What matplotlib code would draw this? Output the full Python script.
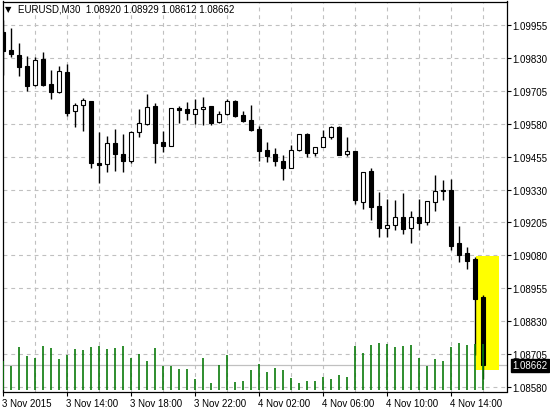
import matplotlib
matplotlib.use("Agg")
import matplotlib.pyplot as plt
import matplotlib.transforms as mtransforms
from matplotlib.patches import Rectangle

# EURUSD M30, 3 Nov 2015 10:00 .. 4 Nov 2015 16:00 (61 bars)
opens = [1.09927, 1.09861, 1.09841, 1.09799, 1.09726, 1.09826, 1.09731, 1.09702, 1.09777, 1.09627,
         1.09650, 1.09666, 1.09431, 1.09426, 1.09507, 1.09465, 1.09440, 1.09548, 1.09578, 1.09647,
         1.09512, 1.09497, 1.09639, 1.09636, 1.09618, 1.09635, 1.09647, 1.09585, 1.09616, 1.09665,
         1.09613, 1.09594, 1.09560, 1.09480, 1.09464, 1.09439, 1.09413, 1.09479, 1.09541, 1.09468,
         1.09491, 1.09529, 1.09568, 1.09464, 1.09476, 1.09284, 1.09401, 1.09266, 1.09185, 1.09197,
         1.09225, 1.09185, 1.09225, 1.09208, 1.09284, 1.09327, 1.09327, 1.09127, 1.09089, 1.09066,
         1.08920]
highs = [1.09974, 1.09942, 1.09886, 1.09836, 1.09835, 1.09854, 1.09785, 1.09800, 1.09807, 1.09660,
         1.09678, 1.09667, 1.09550, 1.09532, 1.09560, 1.09541, 1.09551, 1.09635, 1.09693, 1.09659,
         1.09552, 1.09640, 1.09646, 1.09661, 1.09674, 1.09680, 1.09648, 1.09628, 1.09674, 1.09670,
         1.09628, 1.09651, 1.09570, 1.09512, 1.09488, 1.09461, 1.09499, 1.09541, 1.09543, 1.09492,
         1.09556, 1.09570, 1.09573, 1.09529, 1.09477, 1.09396, 1.09412, 1.09322, 1.09294, 1.09290,
         1.09317, 1.09249, 1.09294, 1.09285, 1.09385, 1.09366, 1.09370, 1.09192, 1.09112, 1.09074,
         1.08929]
lows = [1.09766, 1.09832, 1.09762, 1.09705, 1.09723, 1.09724, 1.09675, 1.09698, 1.09611, 1.09567,
        1.09554, 1.09411, 1.09354, 1.09396, 1.09402, 1.09396, 1.09432, 1.09531, 1.09574, 1.09432,
        1.09474, 1.09494, 1.09583, 1.09595, 1.09579, 1.09575, 1.09575, 1.09584, 1.09613, 1.09604,
        1.09585, 1.09554, 1.09440, 1.09436, 1.09421, 1.09368, 1.09411, 1.09478, 1.09455, 1.09456,
        1.09490, 1.09522, 1.09461, 1.09459, 1.09275, 1.09256, 1.09214, 1.09150, 1.09150, 1.09176,
        1.09161, 1.09127, 1.09176, 1.09195, 1.09249, 1.09290, 1.09102, 1.09056, 1.09029, 1.08700,
        1.08612]
closes = [1.09857, 1.09845, 1.09797, 1.09724, 1.09822, 1.09728, 1.09702, 1.09779, 1.09622, 1.09651,
          1.09669, 1.09432, 1.09424, 1.09506, 1.09464, 1.09440, 1.09548, 1.09583, 1.09642, 1.09508,
          1.09497, 1.09640, 1.09633, 1.09621, 1.09636, 1.09644, 1.09584, 1.09617, 1.09665, 1.09611,
          1.09590, 1.09557, 1.09478, 1.09459, 1.09440, 1.09413, 1.09480, 1.09540, 1.09468, 1.09491,
          1.09529, 1.09567, 1.09462, 1.09476, 1.09292, 1.09396, 1.09264, 1.09185, 1.09195, 1.09225,
          1.09181, 1.09225, 1.09204, 1.09285, 1.09323, 1.09326, 1.09117, 1.09083, 1.09060, 1.08914,
          1.08662]
volumes = [2296, 1872, 3416, 2696, 2536, 3496, 3336, 2456, 2776, 3256,
           3176, 3416, 3496, 3256, 3336, 3496, 2536, 2856, 2296, 3336,
           1872, 1872, 1656, 1656, 856, 2536, 536, 1976, 2776, 616,
           696, 1576, 2056, 1416, 1736, 1576, 936, 536, 696, 696,
           1016, 856, 1176, 1016, 3496, 2936, 3576, 3736, 3656, 3416,
           3496, 3576, 2536, 1896, 2456, 2296, 3416, 3736, 3576, 3656,
           3656]

time_labels = ["3 Nov 2015", "3 Nov 14:00", "3 Nov 18:00", "3 Nov 22:00",
               "4 Nov 02:00", "4 Nov 06:00", "4 Nov 10:00", "4 Nov 14:00"]
price_labels = ["1.09955", "1.09830", "1.09705", "1.09580", "1.09455", "1.09330",
                "1.09205", "1.09080", "1.08955", "1.08830", "1.08705", "1.08580"]
bid = 1.08662
symbol = "EURUSD,M30"

W, H = 550, 410
fig = plt.figure(figsize=(W / 100, H / 100), dpi=100)
ax = fig.add_axes([2.5 / W, 1 - 392.5 / H, 504 / W, 390 / H])
ax.set_xlim(-0.1, 62.9)
ax.set_ylim(1.085629, 1.100443)

font = "Liberation Sans"
grid_kw = dict(color="#c0c0c0", lw=0.8, ls=(0, (3.5, 3.5)), zorder=0)

# grid
price_vals = [float(p) for p in price_labels]
for p in price_vals:
    ax.axhline(p, **grid_kw)
for i in range(4, 63, 4):
    ax.axvline(i, **grid_kw)

# bid line
ax.axhline(bid, color="#c0c0c0", lw=0.9, zorder=1)

# highlight rectangle
ax.add_patch(Rectangle((59.05, 1.08646), 2.9, 1.09078 - 1.08646,
                       facecolor="#ffff00", edgecolor="none", zorder=2))

# candles
xs = list(range(len(opens)))
ax.vlines(xs, lows, highs, color="black", lw=1.0, zorder=3)
for x, o, c in zip(xs, opens, closes):
    bottom = min(o, c)
    height = max(abs(c - o), 0.000005)
    face = "white" if c > o else "black"
    ax.bar(x, height, bottom=bottom, width=0.52, facecolor=face,
           edgecolor="black", linewidth=0.8, zorder=4)

# volumes
ax2 = ax.twinx()
ax2.set_ylim(-144, 31056)
ax2.vlines(xs, 0, volumes, color="#0a7a0a", lw=1.2)
ax2.set_yticks([])
for s in ax2.spines.values():
    s.set_visible(False)

# axes style
for s in ax.spines.values():
    s.set_color("black")
    s.set_linewidth(0.9)
ax.yaxis.tick_right()
ax.set_yticks(price_vals)
ax.set_yticklabels(price_labels, fontsize=7, family=font)
ax.set_xticks(range(0, 57, 8))
ax.set_xticklabels(time_labels, fontsize=7, family=font, ha="left")
ax.tick_params(axis="y", length=3, width=0.8, pad=1.5)
ax.tick_params(axis="x", length=3, width=0.8, pad=1.5)
offset = mtransforms.ScaledTranslation(-1 / 100, 0, fig.dpi_scale_trans)
for lab in ax.get_xticklabels():
    lab.set_transform(lab.get_transform() + offset)

# current price label
tr = mtransforms.blended_transform_factory(ax.transAxes, ax.transData)
ax.text(1.012, bid, "1.08662", transform=tr, fontsize=7, family=font,
        color="white", va="center", ha="left",
        bbox=dict(boxstyle="square,pad=0.15", facecolor="black", edgecolor="black"))

# header
fig.text(5 / W, 1 - 10 / H, "\u25bc", fontsize=6, color="black", va="center", ha="left")
fig.text(18 / W, 1 - 10 / H, symbol + "  1.08920 1.08929 1.08612 1.08662",
         fontsize=7, family=font, color="black", va="center", ha="left")

fig.savefig("out.png", dpi=100)
